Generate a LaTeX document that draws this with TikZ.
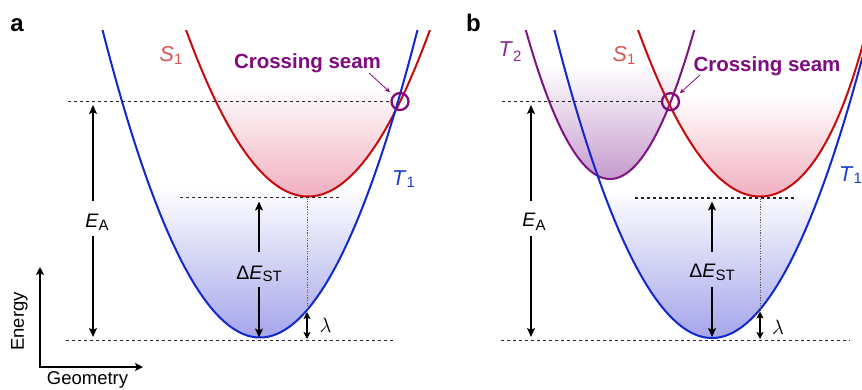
\documentclass[tikz,border=0pt]{standalone}
\usepackage{fontspec}
\setmainfont{Liberation Sans}
\usetikzlibrary{arrows.meta}
\definecolor{cblue}{RGB}{16,40,205}
\definecolor{cred}{RGB}{200,10,10}
\definecolor{cpurple}{RGB}{125,20,130}
\definecolor{lred}{RGB}{215,85,85}
\definecolor{lblue}{RGB}{30,60,205}
\definecolor{lpurple}{RGB}{135,45,140}
\definecolor{cstext}{RGB}{128,10,128}
\definecolor{pinkf}{RGB}{241,175,192}
\definecolor{bluef}{RGB}{165,165,235}
\definecolor{purplef}{RGB}{198,155,205}
\newcommand{\mysubs}[3]{\raisebox{-#1pt}{\fontsize{#2}{#2}\selectfont #3}}
\tikzset{
  curve/.style={line width=2pt},
  refline/.style={line width=1.2pt, black!85, dash pattern=on 3.2pt off 2.8pt},
  guide/.style={line width=0.9pt, gray!70!black, dash pattern=on 1.2pt off 1.4pt},
  arr/.style={line width=1.3pt, -{Stealth[length=9pt,width=8pt,inset=2pt]}},
  lamarr/.style={line width=1.3pt, {Stealth[length=7pt,width=7pt,inset=1.5pt]}-{Stealth[length=7pt,width=7pt,inset=1.5pt]}},
  axarr/.style={line width=1.3pt, {Stealth[length=8pt,width=8pt,inset=2pt]}-{Stealth[length=8pt,width=8pt,inset=2pt]}},
  thinarr/.style={line width=0.8pt, cstext, -{Stealth[length=5pt,width=4.5pt]}},
  seam/.style={circle, draw=cstext, line width=2.3pt, minimum size=17pt, inner sep=0pt},
  cslabel/.style={text=cstext, font=\bfseries\fontsize{20.5}{22}\selectfont, inner sep=0pt},
  curvelabel/.style={font=\fontsize{21.5}{23}\selectfont, inner sep=0pt, anchor=base west},
  qlabel/.style={font=\fontsize{19.5}{21}\selectfont, inner sep=0pt, anchor=base, text height=26pt, text depth=9pt},
  panel/.style={font=\bfseries\fontsize{24}{26}\selectfont, inner sep=0pt, anchor=base},
  axlabel/.style={font=\fontsize{18.5}{20}\selectfont, inner sep=0pt}
}
\begin{document}
\begin{tikzpicture}[x=1pt,y=-1pt]
\useasboundingbox (0,0) rectangle (862,389);
\begin{scope}
\clip (0,30) rectangle (862,389);
% ---------- fills (blue first, so the pink sits over its white top)
\shade[top color=white, bottom color=bluef] plot[domain=150.2:369.8, samples=80] (\x,{337.5-(0.11136*(\x-260))^2}) -- cycle;
\shade[top color=white, bottom color=bluef] plot[domain=602.2:821.8, samples=80] (\x,{338-(0.11136*(\x-712))^2}) -- cycle;
\shade[top color=white, bottom color=pinkf] plot[domain=208.2:407.8, samples=80] (\x,{196.5-(0.10583*(\x-308))^2}) -- cycle;
\shade[top color=white, bottom color=purplef] plot[domain=536.3:683.7, samples=80] (\x,{179-(0.14491*(\x-610))^2}) -- cycle;
\shade[top color=white, bottom color=pinkf] plot[domain=664.8:760, samples=50] (\x,{196.5-(0.10583*(\x-760))^2}) -- plot[domain=760:846.8, samples=50] (\x,{196.5-(0.10583*(\x-760))^2-((0.0234*(\x-760))^2)^2}) -- cycle;
% ---------- curves
\draw[curve, cred] plot[domain=184:432, samples=120] (\x,{196.5-(0.10583*(\x-308))^2});
\draw[curve, cblue] plot[domain=100:420, samples=120] (\x,{337.5-(0.11136*(\x-260))^2});
\draw[curve, cpurple] plot[domain=520:700, samples=100] (\x,{179-(0.14491*(\x-610))^2});
\draw[curve, cred] plot[domain=634:760, samples=60] (\x,{196.5-(0.10583*(\x-760))^2}) -- plot[domain=760:866, samples=60] (\x,{196.5-(0.10583*(\x-760))^2-((0.0234*(\x-760))^2)^2});
\draw[curve, cblue] plot[domain=552:872, samples=120] (\x,{338-(0.11136*(\x-712))^2});
\end{scope}

% ---------- panel labels
\node[panel] (la) at (17,31.7) {a};
\node[panel] (lb) at (473.5,31.7) {b};

% ---------- panel a
\node[seam] (aC) at (400,101.5) {};
\draw[refline] (68,101.5) -- (aC.west);
\draw[refline] (180,197.5) -- (342,197.5);
\draw[refline] (66,340.5) -- (393,340.5);
\draw[guide] (307,198.5) -- (307,311);

\node[curvelabel, text=lred] (aS1) at (159.5,61.7) {\textit{S}\mysubs{2.3}{15}{1}};
\node[curvelabel, text=lblue] (aT1) at (392,185) {\textit{T}\mysubs{2}{15}{1}};
\node[cslabel, anchor=base] (aCS) at (307.5,68.3) {Crossing seam};
\coordinate (aCS0) at (369,73);
\draw[thinarr, shorten >=4pt] (aCS0) -- (aC);

\node[qlabel] (aEA) at (97,227) {\textit{E}\mysubs{3.5}{15}{A}};
\coordinate (aEAt) at (93,105);
\coordinate (aEAb) at (93,337);
\draw[arr] (aEA.north -| aEAt) -- (aEAt);
\draw[arr] (aEA.south -| aEAb) -- (aEAb);

\node[qlabel, text height=27pt, text depth=8pt] (aDE) at (259,279) {Δ\textit{E}\mysubs{2.5}{15}{ST}};
\coordinate (aDEt) at (259,201.5);
\coordinate (aDEb) at (259,337.5);
\draw[arr] (aDE.north -| aDEt) -- (aDEt);
\draw[arr] (aDE.south -| aDEb) -- (aDEb);

\coordinate (aL1) at (307,312);
\coordinate (aL2) at (307,339);
\draw[lamarr] (aL1) -- (aL2);
\node[font=\fontsize{22}{24}\selectfont, inner sep=0pt] (aLam) at (325.5,325.5) {$\lambda$};

% axes
\coordinate (ax0) at (40,367);
\coordinate (axY) at (40,267);
\coordinate (axX) at (143,367);
\draw[axarr] (axY) -- (ax0) -- (axX);
\node[axlabel, rotate=90] (enl) at (19.5,321.5) {Energy};
\node[axlabel, anchor=base] (geol) at (87.5,384.5) {Geometry};

% ---------- panel b
\node[seam] (bC) at (670.5,101.7) {};
\draw[refline] (502,101.7) -- (bC.west);
\draw[refline] (635,198) -- (797,198);
\draw[refline] (501,340.5) -- (850,340.5);
\draw[guide] (760,198.5) -- (760,311);

\node[curvelabel, text=lpurple] (bT2) at (498.5,56.7) {\textit{T}\mysubs{5}{15}{2}};
\node[curvelabel, text=lred] (bS1) at (612.5,61.7) {\textit{S}\mysubs{2.3}{15}{1}};
\node[curvelabel, text=lblue] (bT1) at (839,181) {\textit{T}\mysubs{2}{15}{1}};
\node[cslabel, anchor=base] (bCS) at (767,71.5) {Crossing seam};
\coordinate (bCS0) at (700,75);
\draw[thinarr, shorten >=3pt] (bCS0) -- (bC);

\node[qlabel] (bEA) at (534,226.7) {\textit{E}\mysubs{3.5}{15}{A}};
\coordinate (bEAt) at (531,105);
\coordinate (bEAb) at (531,337);
\draw[arr] (bEA.north -| bEAt) -- (bEAt);
\draw[arr] (bEA.south -| bEAb) -- (bEAb);

\node[qlabel, text height=26pt, text depth=9pt] (bDE) at (712,277.7) {Δ\textit{E}\mysubs{2.5}{15}{ST}};
\coordinate (bDEt) at (712,201.5);
\coordinate (bDEb) at (712,337);
\draw[arr] (bDE.north -| bDEt) -- (bDEt);
\draw[arr] (bDE.south -| bDEb) -- (bDEb);

\coordinate (bL1) at (760,311.5);
\coordinate (bL2) at (760,339);
\draw[lamarr] (bL1) -- (bL2);
\node[font=\fontsize{22}{24}\selectfont, inner sep=0pt] (bLam) at (778,327) {$\lambda$};
\end{tikzpicture}
\end{document}
